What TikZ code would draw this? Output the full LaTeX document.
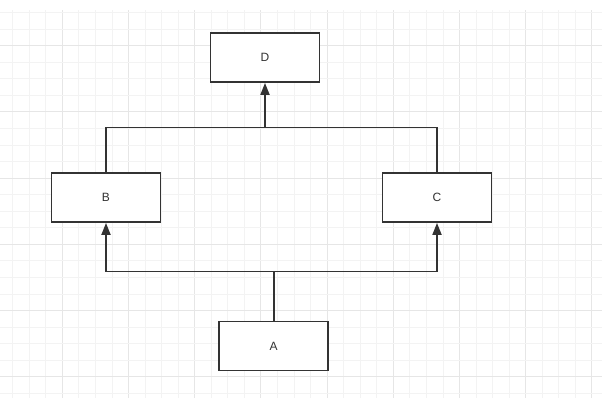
\documentclass[tikz,border=0pt]{standalone}
\usepackage{fontspec}
\setmainfont{Liberation Sans}
\usetikzlibrary{positioning,arrows.meta,calc}
\definecolor{boxline}{RGB}{51,51,51}
\definecolor{gridminor}{RGB}{243,243,243}
\definecolor{gridmajor}{RGB}{230,230,230}

\begin{document}
\begin{tikzpicture}[
  x=1pt, y=-1pt,
  every node/.style={font=\fontsize{12}{14}\selectfont, text=boxline},
  cls/.style={rectangle, draw=boxline, line width=1.8pt, fill=white,
              minimum width=109pt, minimum height=49pt, inner sep=0pt},
  link/.style={draw=boxline, line width=1.8pt},
  inherit/.style={link, -{Triangle[length=12pt, width=9pt]}}
]
  \useasboundingbox (0,0) rectangle (602,414);
  % background grid
  \foreach \k in {0,...,35} {
    \pgfmathsetmacro{\gx}{12.7+16.55*\k}
    \pgfmathtruncatemacro{\gm}{mod(\k+1,4)}
    \ifnum\gm=0
      \draw[gridmajor, line width=1pt] (\gx,10) -- (\gx,398);
    \else
      \draw[gridminor, line width=1pt] (\gx,10) -- (\gx,398);
    \fi
  }
  \foreach \k in {0,...,23} {
    \pgfmathsetmacro{\gy}{12.7+16.55*\k}
    \pgfmathtruncatemacro{\gm}{mod(\k+2,4)}
    \ifnum\gm=0
      \draw[gridmajor, line width=1pt] (0,\gy) -- (602,\gy);
    \else
      \draw[gridminor, line width=1pt] (0,\gy) -- (602,\gy);
    \fi
  }

  % classes
  \node[cls] (d) at (265,57.5)  {D};
  \node[cls] (b) at (106,197.5) {B};
  \node[cls] (c) at (437,197.5) {C};
  \node[cls] (a) at (273.7,346) {A};

  % B, C -> D
  \coordinate (top) at (d.south |- 0,127.5);
  \draw[link] (b.north) |- (top) -| (c.north);
  \draw[inherit] (top) -- (d.south);

  % A -> B, C
  \coordinate (bot) at (a.north |- 0,271.5);
  \draw[link] (a.north) -- (bot);
  \draw[inherit] (bot) -| (b.south);
  \draw[inherit] (bot) -| (c.south);
\end{tikzpicture}
\end{document}
